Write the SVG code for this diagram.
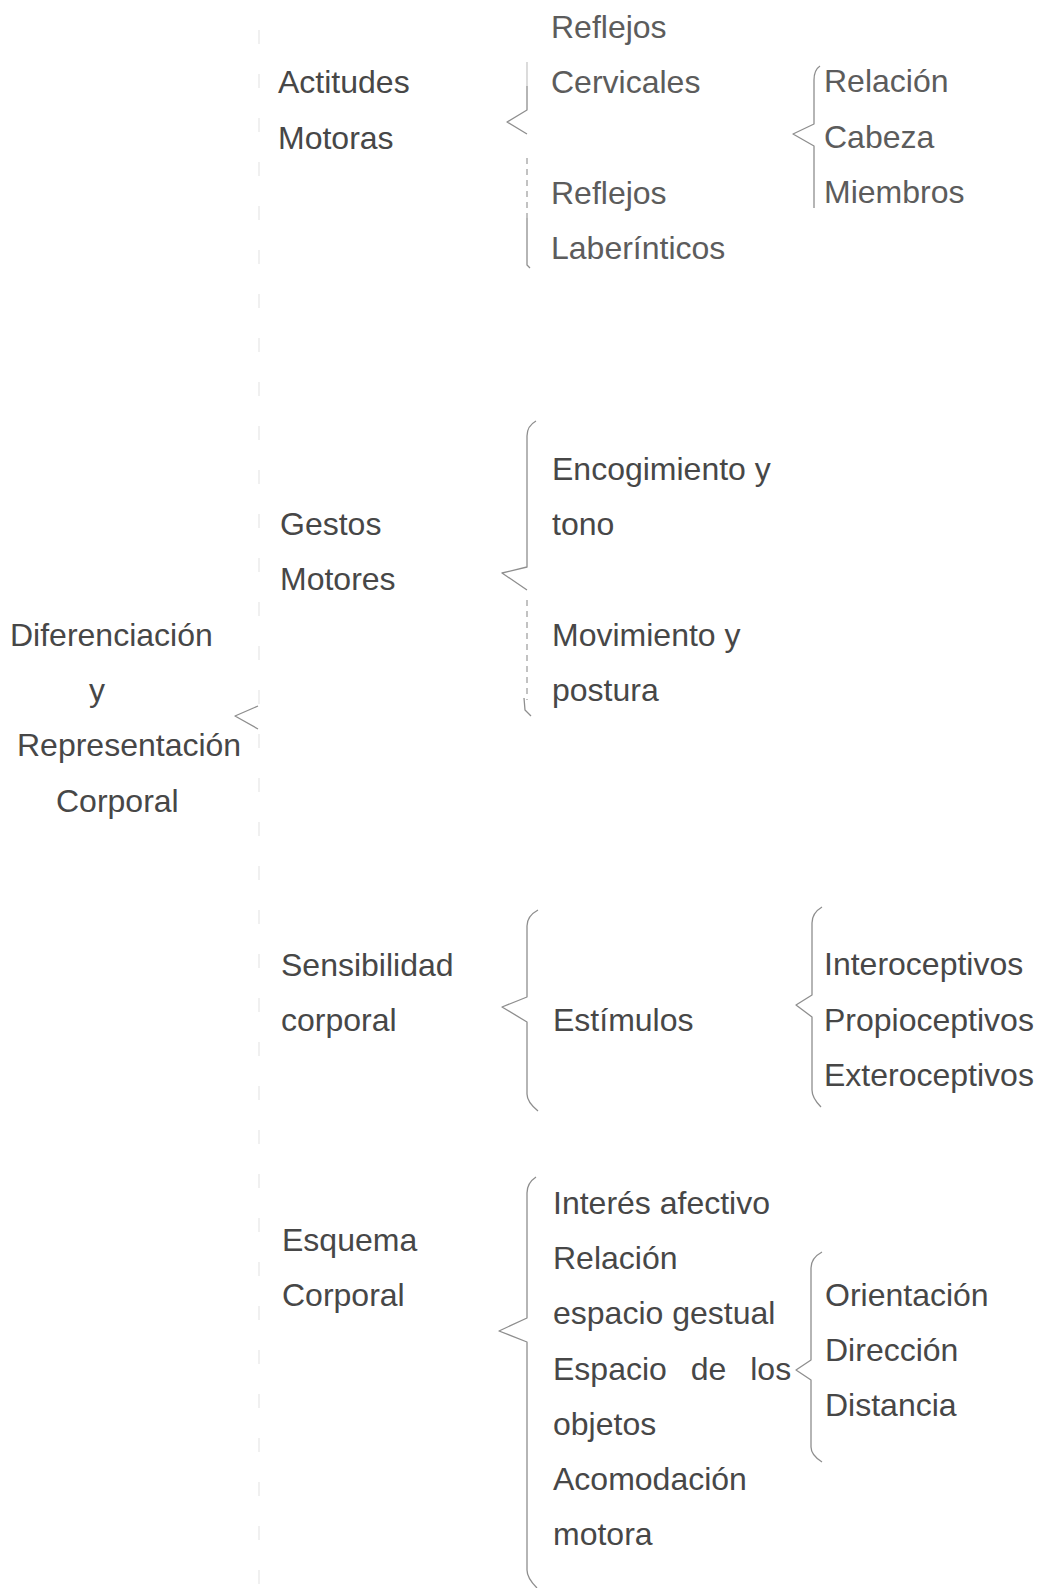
<svg xmlns="http://www.w3.org/2000/svg" width="1043" height="1588" viewBox="0 0 1043 1588">
<style>
  text { font-family: "Liberation Sans", Arial, sans-serif; font-size: 32px; fill: #474747; }
  .lt { fill: #5c5c5c; }
  .brace { fill: none; stroke: #8e8e8e; stroke-width: 1.3; stroke-linejoin: round; }
  .soft { fill: none; stroke: #c4c4c4; stroke-width: 1.2; }
  .dash { fill: none; stroke: #9a9a9a; stroke-width: 1.2; stroke-dasharray: 6 5; }
  .faint { fill: none; stroke: #f0f0f0; stroke-width: 2; stroke-dasharray: 14 30; }
</style>
<rect width="1043" height="1588" fill="#ffffff"/>

<g id="connectors">
  <!-- faint main vertical -->
  <path class="faint" d="M259,30 L259,1588"/>
  <!-- main brace tip -->
  <path id="brace-root" class="brace" d="M258,706 L235,716 L258,729"/>
  <!-- Actitudes Motoras brace -->
  <g id="brace-actitudes">
    <path class="soft" d="M527,62 L527,86"/>
    <path class="brace" d="M527,86 L527,110 L507,122 L527,134"/>
    <path class="dash" d="M527,158 L527,218"/>
    <path class="brace" d="M527,218 L527,265 L530,268"/>
  </g>
  <!-- Reflejos cervicales brace -->
  <path id="brace-cervicales" class="brace" d="M820,66 Q814,70 814,80 L814,124 L793,134 L814,146 L814,208"/>
  <!-- Gestos Motores brace -->
  <g id="brace-gestos">
    <path class="brace" d="M536,421 Q527,426 527,436 L527,567 L502,573 L527,590"/>
    <path class="dash" d="M527,600 L527,700"/>
    <path class="brace" d="M524,698 L525,710 L531,716"/>
  </g>
  <!-- Estimulos brace -->
  <path id="brace-estimulos" class="brace" d="M538,910 Q527,916 527,926 L527,997 L502,1007 L527,1022 L527,1094 Q527,1102 538,1111"/>
  <!-- Interoceptivos brace -->
  <path id="brace-receptores" class="brace" d="M822,907 Q812,913 812,923 L812,995 L796,1005 L812,1017 L812,1090 Q812,1098 821,1107"/>
  <!-- Esquema corporal brace -->
  <path id="brace-esquema" class="brace" d="M536,1177 Q527,1183 527,1193 L527,1318 L499,1331 L527,1342 L527,1570 Q527,1578 537,1588"/>
  <!-- Orientacion brace -->
  <path id="brace-orientacion" class="brace" d="M822,1252 Q811,1258 811,1268 L811,1360 L796,1370 L811,1380 L811,1447 Q811,1455 822,1462"/>
</g>

<g id="node-root">
  <text x="10" y="646">Diferenciación</text>
  <text x="89" y="701">y</text>
  <text x="17" y="756">Representación</text>
  <text x="56" y="812">Corporal</text>
</g>

<g id="node-actitudes"><text x="278" y="93">Actitudes</text><text x="278" y="149">Motoras</text></g>
<g id="node-reflejos-cervicales"><text class="lt" x="551" y="38">Reflejos</text><text class="lt" x="551" y="93">Cervicales</text></g>
<g id="node-reflejos-laberinticos"><text class="lt" x="551" y="204">Reflejos</text><text class="lt" x="551" y="259">Laberínticos</text></g>
<g id="node-relacion"><text class="lt" x="824" y="92">Relación</text></g>
<g id="node-cabeza"><text class="lt" x="824" y="148">Cabeza</text></g>
<g id="node-miembros"><text class="lt" x="824" y="203">Miembros</text></g>

<g id="node-gestos"><text x="280" y="535">Gestos</text><text x="280" y="590">Motores</text></g>
<g id="node-encogimiento"><text x="552" y="480">Encogimiento y</text><text x="552" y="535">tono</text></g>
<g id="node-movimiento"><text x="552" y="646">Movimiento y</text><text x="552" y="701">postura</text></g>

<g id="node-sensibilidad"><text x="281" y="976">Sensibilidad</text><text x="281" y="1031">corporal</text></g>
<g id="node-estimulos"><text x="553" y="1031">Estímulos</text></g>
<g id="node-interoceptivos"><text x="824" y="975">Interoceptivos</text></g>
<g id="node-propioceptivos"><text x="824" y="1031">Propioceptivos</text></g>
<g id="node-exteroceptivos"><text x="824" y="1086">Exteroceptivos</text></g>

<g id="node-esquema"><text x="282" y="1251">Esquema</text><text x="282" y="1306">Corporal</text></g>
<g id="node-interes"><text x="553" y="1214">Interés afectivo</text></g>
<g id="node-relacion-espacio"><text x="553" y="1269">Relación</text><text x="553" y="1324">espacio gestual</text></g>
<g id="node-espacio-objetos"><text x="553" y="1380" word-spacing="15">Espacio de los</text><text x="553" y="1435">objetos</text></g>
<g id="node-acomodacion"><text x="553" y="1490">Acomodación</text><text x="553" y="1545">motora</text></g>
<g id="node-orientacion"><text x="825" y="1306">Orientación</text></g>
<g id="node-direccion"><text x="825" y="1361">Dirección</text></g>
<g id="node-distancia"><text x="825" y="1416">Distancia</text></g>
</svg>
